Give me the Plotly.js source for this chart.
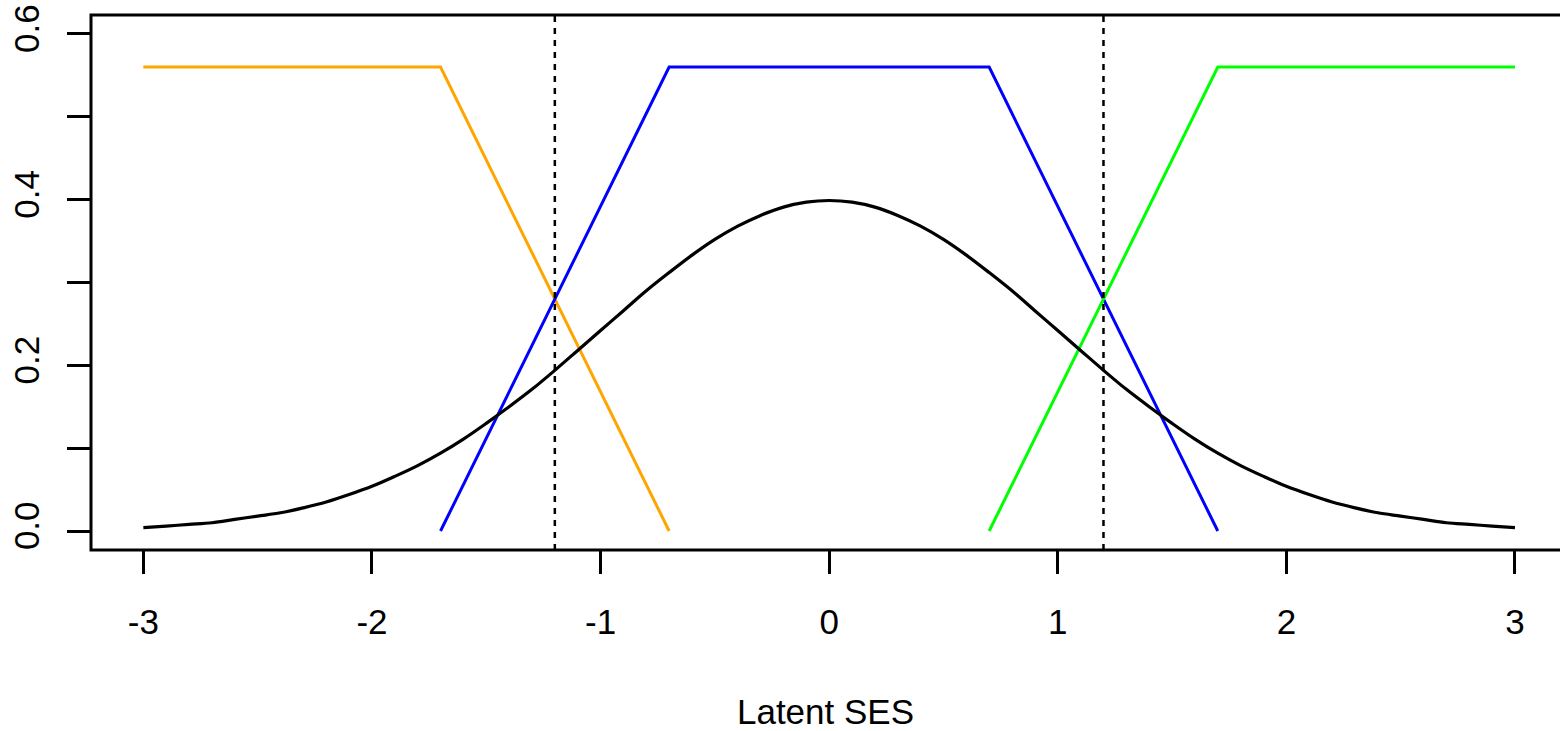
<!DOCTYPE html>
<html>
<head>
<meta charset="utf-8">
<script src="https://cdn.plot.ly/plotly-3.0.1.min.js"></script>
<style>html,body{margin:0;padding:0;background:#fff;}#chart{width:1560px;height:731px;}</style>
</head>
<body>
<div id="chart"></div>
<script>
// Latent SES density curve
const densX = [-3.0,-2.9,-2.8,-2.7,-2.6,-2.5,-2.4,-2.3,-2.2,-2.1,-2.0,-1.9,-1.8,-1.7,-1.6,-1.5,-1.4,-1.3,-1.2,-1.1,-1.0,-0.9,-0.8,-0.7,-0.6,-0.5,-0.4,-0.3,-0.2,-0.1,0.0,0.1,0.2,0.3,0.4,0.5,0.6,0.7,0.8,0.9,1.0,1.1,1.2,1.3,1.4,1.5,1.6,1.7,1.8,1.9,2.0,2.1,2.2,2.3,2.4,2.5,2.6,2.7,2.8,2.9,3.0];
const densY = [0.004,0.006,0.008,0.010,0.014,0.018,0.022,0.028,0.035,0.044,0.054,0.066,0.079,0.094,0.111,0.130,0.150,0.171,0.194,0.218,0.242,0.266,0.290,0.312,0.333,0.352,0.368,0.381,0.391,0.397,0.399,0.397,0.391,0.381,0.368,0.352,0.333,0.312,0.290,0.266,0.242,0.218,0.194,0.171,0.150,0.130,0.111,0.094,0.079,0.066,0.054,0.044,0.035,0.028,0.022,0.018,0.014,0.010,0.008,0.006,0.004];
// Category membership lines
const lowX = [-3, -1.7, -0.7];
const lowY = [0.56, 0.56, 0];
const midX = [-1.7, -0.7, 0.7, 1.7];
const midY = [0, 0.56, 0.56, 0];
const highX = [0.7, 1.7, 3];
const highY = [0, 0.56, 0.56];
// Cut points
const cutpoints = [-1.2, 1.2];
// Ticks
const xTicks = [-3, -2, -1, 0, 1, 2, 3];
const yTicks = [0.0, 0.2, 0.4, 0.6];
const yTickText = ['0.0', '0.2', '0.4', '0.6'];
const yMinorTicks = [0.1, 0.3, 0.5];

const FONT = 'Liberation Sans, Arial, sans-serif';

const traces = [
  {x: lowX, y: lowY, mode: 'lines', line: {color: '#FFA500', width: 3}, hoverinfo: 'skip'},
  {x: midX, y: midY, mode: 'lines', line: {color: '#0000FF', width: 3}, hoverinfo: 'skip'},
  {x: highX, y: highY, mode: 'lines', line: {color: '#00FF00', width: 3}, hoverinfo: 'skip'},
  {x: densX, y: densY, mode: 'lines', line: {color: '#000000', width: 3.2, shape: 'spline'}, hoverinfo: 'skip'}
];

const shapes = cutpoints.map(c => ({
  type: 'line', xref: 'x', yref: 'paper', x0: c, x1: c, y0: 0, y1: 1,
  line: {color: '#000', width: 2.5, dash: '6px,6px'}
}));
shapes.push({type: 'rect', xref: 'paper', yref: 'paper', x0: 0, x1: 1.05, y0: 0, y1: 1,
  line: {color: '#000', width: 3}, fillcolor: 'rgba(0,0,0,0)'});

const layout = {
  width: 1560, height: 731,
  margin: {l: 91, r: 0, t: 15, b: 181},
  paper_bgcolor: '#fff', plot_bgcolor: '#fff',
  showlegend: false,
  font: {family: FONT, size: 35, color: '#000'},
  xaxis: {
    range: [-3.229, 3.197], showgrid: false, zeroline: false, showline: false,
    tickmode: 'array', tickvals: xTicks, ticktext: xTicks.map(String),
    ticks: 'outside', ticklen: 23, tickwidth: 3, tickcolor: '#000',
    tickfont: {family: FONT, size: 35, color: '#000'},
    ticklabelstandoff: 18,
    title: {text: 'Latent SES', font: {family: FONT, size: 35, color: '#000'}, standoff: 66}
  },
  yaxis: {
    range: [-0.0229, 0.6229], showgrid: false, zeroline: false, showline: false,
    tickmode: 'array', tickvals: yTicks, ticktext: yTickText, tickangle: -90,
    ticks: 'outside', ticklen: 23, tickwidth: 3, tickcolor: '#000',
    tickfont: {family: FONT, size: 35, color: '#000'},
    minor: {tickvals: yMinorTicks, ticks: 'outside', ticklen: 23, tickwidth: 3, tickcolor: '#000', showgrid: false},
    ticklabelstandoff: 14
  },
  shapes: shapes
};

Plotly.newPlot('chart', traces, layout, {staticPlot: true, displayModeBar: false});
</script>
</body>
</html>
